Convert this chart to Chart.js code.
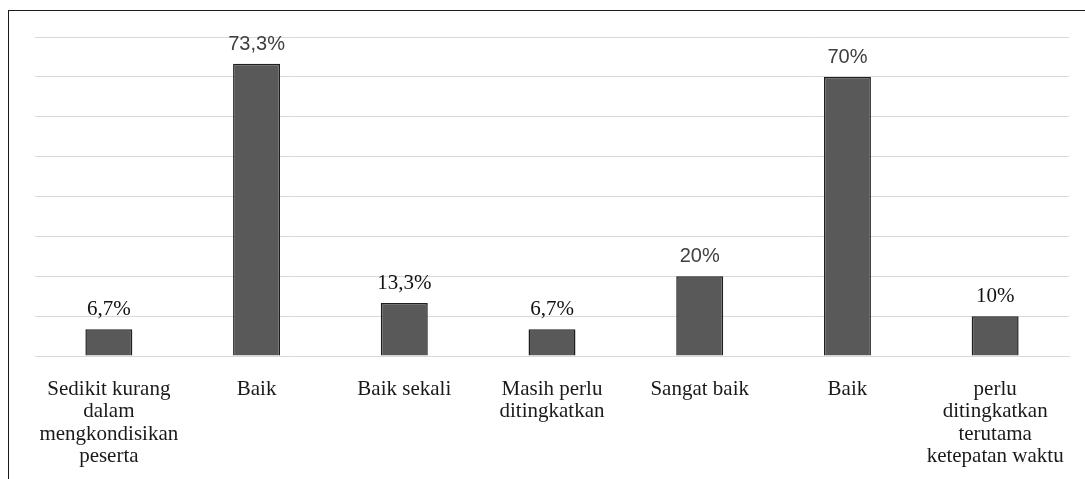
<!DOCTYPE html>
<html>
<head>
<meta charset="utf-8">
<script src="https://cdn.jsdelivr.net/npm/chart.js@4"></script>
<style>
  html, body { margin: 0; padding: 0; background: #fff; }
  #wrap { position: relative; width: 1085px; height: 479px; overflow: hidden; }
  #frame {
    position: absolute; left: 8px; top: 10px; width: 1200px; height: 600px;
    border-left: 1.5px solid #1a1a1a; border-top: 1.5px solid #1a1a1a;
  }
  canvas { position: absolute; left: 0; top: 0; }
</style>
</head>
<body>
<div id="wrap">
  <div id="frame"></div>
  <canvas id="chart" width="1085" height="479"></canvas>
</div>
<script>
// Categories (multi-line labels as in the original)
const categories = [
    ['Sedikit kurang', 'dalam', 'mengkondisikan', 'peserta'],
    'Baik',
    'Baik sekali',
    ['Masih perlu', 'ditingkatkan'],
    'Sangat baik',
    'Baik',
    ['perlu', 'ditingkatkan', 'terutama', 'ketepatan waktu']
];

// Percentages per category
const percentages = [6.7, 73.3, 13.3, 6.7, 20, 70, 10];

// Axis range
const yMax = 80;
const yStep = 10;

// Some labels were typed in a different font in the source
const sansLabelIdx = [1, 4, 5];

const SERIF = '"Liberation Serif", "Times New Roman", serif';
const SANS = '"Liberation Sans", Arial, sans-serif';

// Value labels above bars
const valueLabels = {
    id: 'valueLabels',
    afterDatasetsDraw(chart) {
        const ctx = chart.ctx;
        const meta = chart.getDatasetMeta(0);
        ctx.save();
        ctx.textAlign = 'center';
        ctx.textBaseline = 'alphabetic';
        meta.data.forEach((bar, i) => {
            const v = percentages[i];
            const txt = String(v).replace('.', ',') + '%';
            if (sansLabelIdx.includes(i)) {
                ctx.font = '20px ' + SANS;
                ctx.fillStyle = '#404040';
            } else {
                ctx.font = '21px ' + SERIF;
                ctx.fillStyle = '#111';
            }
            ctx.fillText(txt, bar.x, bar.y - 14);
        });
        ctx.restore();
    }
};

const ctx = document.getElementById('chart').getContext('2d');
new Chart(ctx, {
    type: 'bar',
    data: {
        labels: categories,
        datasets: [{
            data: percentages,
            backgroundColor: '#595959',
            borderColor: '#1f1f1f',
            borderWidth: 1.5,
            barPercentage: 1,
            categoryPercentage: 0.318
        }]
    },
    options: {
        responsive: false,
        animation: false,
        layout: { padding: { left: 35, right: 16, top: 37, bottom: 0 } },
        plugins: {
            legend: { display: false },
            tooltip: { enabled: false }
        },
        scales: {
            x: {
                grid: { display: false },
                border: { display: true, color: '#d9d9d9', width: 1 },
                ticks: {
                    color: '#1a1a1a',
                    font: { family: SERIF, size: 21, lineHeight: '22.5px' },
                    padding: 14,
                    maxRotation: 0,
                    autoSkip: false
                },
                afterFit(scale) { scale.height = 123; }
            },
            y: {
                min: 0,
                max: yMax,
                ticks: { display: false, stepSize: yStep },
                grid: { color: '#d9d9d9', lineWidth: 1, drawTicks: false },
                border: { display: false },
                afterFit(scale) { scale.width = 0; }
            }
        }
    },
    plugins: [valueLabels]
});
</script>
</body>
</html>
